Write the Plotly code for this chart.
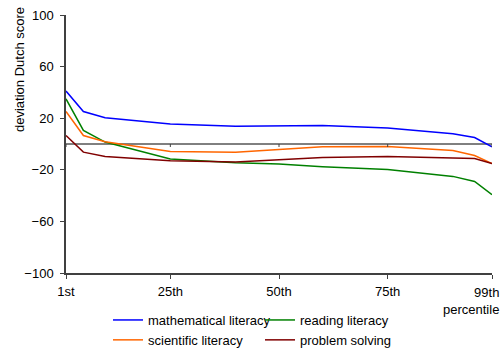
import plotly.graph_objects as go

percentiles = [1, 5, 10, 25, 40, 50, 60, 75, 90, 95, 99]
math_lit = [41, 25.2, 20.3, 15.5, 13.8, 13.8, 14.3, 12.5, 7.9, 5.0, -2.2]
reading_lit = [35, 10.5, 1.5, -11.6, -14.6, -15.6, -17.6, -19.7, -25.1, -29, -39.3]
science_lit = [25.2, 6.6, 1.7, -5.8, -6.3, -4.0, -2.2, -1.9, -5.0, -8.9, -15.1]
problem_solv = [6.6, -6.3, -9.7, -13, -14, -12.2, -10.4, -9.7, -10.9, -11.2, -15.1]
baseline = [0, 0]

tick_vals = [1, 25, 50, 75, 99]
tick_text = ["1st", "25th", "50th", "75th", ""]
last_tick_label = "99th<br>percentile"
y_ticks = [-100, -60, -20, 20, 60, 100]

W, H = 501, 349
L, R, T, B = 66, 9, 15, 76
PW, PH = W - L - R, H - T - B
FONT = "Liberation Sans, Arial, sans-serif"

fig = go.Figure()

fig.add_trace(go.Scatter(x=[percentiles[0], percentiles[-1]], y=baseline, mode="lines",
                         line=dict(color="black", width=1), showlegend=False,
                         hoverinfo="skip"))

series = [
    ("mathematical literacy", math_lit, "#0000FF", "legend"),
    ("reading literacy", reading_lit, "#008000", "legend2"),
    ("scientific literacy", science_lit, "#FF6600", "legend"),
    ("problem solving", problem_solv, "#800000", "legend2"),
]
for name, vals, col, lg in series:
    fig.add_trace(go.Scatter(x=percentiles, y=vals, mode="lines", name=name,
                             line=dict(color=col, width=1.5), legend=lg))

shapes = []
for tv in tick_vals:
    shapes.append(dict(type="line", xref="x", yref="y", x0=tv, x1=tv,
                       ysizemode="pixel", yanchor=baseline[0], y0=0, y1=-3,
                       line=dict(color="#404040", width=1)))


def py(px):
    return 1 - (px - T) / PH


leg_top = py(305)
fig.update_layout(
    width=W, height=H,
    margin=dict(l=L, r=R, t=T, b=B, autoexpand=False),
    plot_bgcolor="white", paper_bgcolor="white",
    font=dict(family=FONT, size=13, color="black"),
    xaxis=dict(range=[1, 99], tickvals=tick_vals, ticktext=tick_text,
               showline=True, linecolor="#404040", linewidth=1.5,
               ticks="outside", ticklen=4, tickcolor="#404040",
               ticklabelstandoff=2, ticklabeloverflow="allow",
               showgrid=False, zeroline=False),
    yaxis=dict(range=[-100, 100], tickvals=y_ticks,
               showline=True, linecolor="#404040", linewidth=1.5,
               ticks="outside", ticklen=4, tickcolor="#404040",
               ticklabelstandoff=4,
               showgrid=False, zeroline=False),
    shapes=shapes,
    legend=dict(x=(108 - L) / PW, y=leg_top,
                xanchor="left", yanchor="top", bgcolor="rgba(0,0,0,0)",
                font=dict(size=13), tracegroupgap=0),
    legend2=dict(x=(260 - L) / PW, y=leg_top,
                 xanchor="left", yanchor="top", bgcolor="rgba(0,0,0,0)",
                 font=dict(size=13), tracegroupgap=0),
    annotations=[
        dict(text="deviation Dutch score", xref="paper", yref="paper",
             x=-(L - 20) / PW, y=py(70), textangle=-90,
             showarrow=False, font=dict(size=13),
             xanchor="center", yanchor="middle"),
        dict(text=last_tick_label, xref="x", yref="paper", x=tick_vals[-1],
             xshift=8, y=py(300.5), xanchor="right", yanchor="middle",
             align="right", borderpad=0,
             showarrow=False, font=dict(size=13)),
    ],
)

fig.write_html("out.html", config={"displayModeBar": False},
               post_script="document.body.style.margin='0';document.body.style.padding='0';")
